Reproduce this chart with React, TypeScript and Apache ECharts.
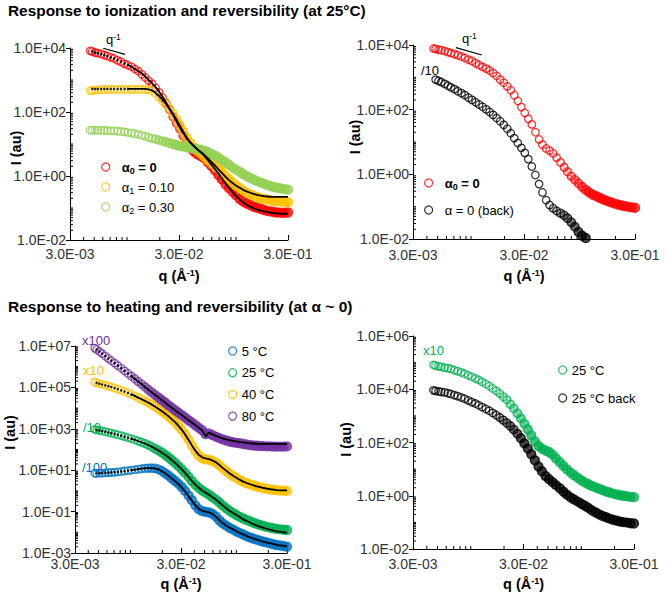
import React, { useEffect, useRef } from 'react';
import * as echarts from 'echarts';

const FONT = '"Liberation Sans", Arial, Helvetica, sans-serif';

// scattering vector q (Å^-1), shared sampling grid of the curves
const Q = [0.0046, 0.0048, 0.0051, 0.0054, 0.0058, 0.0062, 0.0066, 0.0071, 0.0076, 0.0082,
  0.0088, 0.0095, 0.0102, 0.011, 0.0118, 0.0127, 0.0137, 0.0147, 0.0158, 0.017,
  0.0183, 0.0197, 0.0212, 0.0228, 0.0245, 0.0264, 0.0284, 0.0305, 0.0328, 0.0353,
  0.038, 0.041, 0.044, 0.0475, 0.051, 0.055, 0.059, 0.064, 0.069, 0.074,
  0.08, 0.086, 0.093, 0.1, 0.108, 0.116, 0.125, 0.135, 0.145, 0.156,
  0.168, 0.18, 0.194, 0.21, 0.225, 0.24, 0.26, 0.28, 0.3];

const Q_MIN = 0.003;
const X_TICK_LABELS = ['3.0E-03', '3.0E-02', '3.0E-01'];
const Y_TICKS_A = ['1.0E-02', '1.0E+00', '1.0E+02', '1.0E+04'];
const Y_TICKS_C = ['1.0E-03', '1.0E-01', '1.0E+01', '1.0E+03', '1.0E+05', '1.0E+07'];
const Y_TICKS_D = ['1.0E-02', '1.0E+00', '1.0E+02', '1.0E+04', '1.0E+06'];

const TITLES = [
  'Response to ionization and reversibility (at 25°C)',
  'Response to heating and reversibility (at α ~ 0)',
];

// ---- Panel 1: ionization (25 °C) ----
const P1_RED = [8.1e3, 7.8e3, 7.2e3, 6.9e3, 6.5e3, 6.0e3, 5.6e3, 5.1e3, 4.7e3, 4.1e3,
  3.7e3, 3.2e3, 2.9e3, 2.6e3, 2.2e3, 1.9e3, 1.5e3, 1.2e3, 950, 760,
  560, 410, 280, 190, 120, 71, 45, 30, 18, 10.7,
  7.6, 5.8, 4.8, 4.2, 3.6, 2.75, 2.1, 1.5, 1.07, 0.79,
  0.55, 0.42, 0.32, 0.25, 0.19, 0.16, 0.138, 0.123, 0.11, 0.102,
  0.095, 0.087, 0.081, 0.078, 0.074, 0.072, 0.071, 0.071, 0.072];
const P1_RED_FIT = [null, 7.8e3, 7.2e3, 6.9e3, 6.5e3, 6.0e3, 5.6e3, 5.1e3, 4.7e3, 4.2e3,
  3.8e3, 3.3e3, 3.0e3, 2.6e3, 2.2e3, 1.9e3, 1.6e3, 1.3e3, 1.0e3, 790,
  600, 440, 300, 200, 129, 81, 51, 33, 22, 15,
  11.2, 8.7, 6.9, 5.5, 4.3, 3.16, 2.34, 1.66, 1.17, 0.85,
  0.6, 0.44, 0.32, 0.24, 0.186, 0.151, 0.126, 0.11, 0.098, 0.089,
  0.083, 0.078, 0.074, 0.071, 0.069, 0.068, 0.066, 0.066, 0.066];
const P1_YEL = [460, 470, 480, 490, 500, 510, 510, 510, 510, 510,
  510, 510, 510, 510, 510, 510, 510, 500, 490, 460,
  380, 290, 224, 174, 129, 91, 60, 39, 25, 15.8,
  10.7, 7.9, 6.3, 5.0, 4.0, 3.16, 2.57, 2.0, 1.66, 1.32,
  1.0, 0.81, 0.63, 0.5, 0.42, 0.355, 0.3, 0.27, 0.24, 0.22,
  0.204, 0.19, 0.182, 0.174, 0.166, 0.162, 0.158, 0.155, 0.151];
const P1_YEL_FIT = [null, 525, 525, 525, 525, 525, 525, 525, 525, 525,
  525, 525, 525, 525, 525, 525, 525, 525, 513, 468,
  398, 316, 240, 178, 126, 87, 58, 37, 24, 15.8,
  11.2, 8.5, 6.9, 5.6, 4.6, 3.6, 2.8, 2.14, 1.62, 1.26,
  0.95, 0.76, 0.6, 0.5, 0.43, 0.37, 0.33, 0.3, 0.275, 0.257,
  0.245, 0.234, 0.229, 0.224, 0.224, 0.224, 0.224, 0.224, 0.224];
const P1_GRN = [27, 27, 27, 27, 27, 26.3, 26.3, 25.7, 25.7, 25.1,
  24.5, 24, 22.9, 21.9, 20.9, 20, 18.6, 17.4, 16.2, 15.1,
  14.1, 13.2, 12.3, 11.5, 10.7, 10, 9.3, 8.7, 8.3, 7.9,
  7.6, 7.2, 6.9, 6.6, 6.2, 5.6, 5.0, 4.4, 3.7, 3.16,
  2.63, 2.24, 1.86, 1.58, 1.35, 1.15, 1.0, 0.87, 0.78, 0.69,
  0.63, 0.575, 0.525, 0.48, 0.447, 0.427, 0.407, 0.389, 0.372];

// ---- Panel 2: reversibility of ionization ----
const P2_RED = [7.8e3, 7.6e3, 7.2e3, 6.9e3, 6.5e3, 6.0e3, 5.6e3, 5.2e3, 4.8e3, 4.4e3,
  4.0e3, 3.5e3, 3.2e3, 2.75e3, 2.4e3, 2.1e3, 1.86e3, 1.62e3, 1.35e3, 1.1e3,
  850, 680, 525, 400, 280, 186, 120, 79, 52, 35,
  20, 12, 8.3, 6.3, 5.4, 4.4, 3.3, 2.34, 1.66, 1.2,
  0.87, 0.68, 0.525, 0.41, 0.33, 0.275, 0.234, 0.209, 0.186, 0.166,
  0.151, 0.138, 0.126, 0.117, 0.11, 0.105, 0.1, 0.095, 0.093];
const P2_BACK = [null, 850, 780, 710, 630, 550, 490, 430, 370, 324,
  282, 234, 200, 170, 145, 123, 102, 85, 69, 55,
  44, 34, 25.7, 18.6, 13.2, 9.3, 6.6, 4.6, 2.95, 1.74,
  0.95, 0.5, 0.275, 0.158, 0.112, 0.089, 0.074, 0.063, 0.054, 0.044,
  0.033, 0.024, 0.0166, 0.0126, 0.0107];

// ---- Panel 3: heating ----
const P3_BLUE = [7.1, 7.1, 7.2, 7.2, 7.4, 7.6, 7.8, 7.9, 8.3, 8.7,
  9.1, 9.5, 10, 10.5, 11.2, 11.7, 12.3, 12.6, 12.6, 12.3,
  11.2, 9.3, 7.2, 5.5, 4.1, 3.0, 2.19, 1.55, 1.0, 0.6,
  0.355, 0.2, 0.132, 0.105, 0.098, 0.091, 0.079, 0.058, 0.038, 0.0275,
  0.021, 0.0166, 0.0135, 0.011, 0.0091, 0.0078, 0.0065, 0.0056, 0.0049, 0.0044,
  0.0039, 0.0035, 0.0032, 0.0029, 0.0026, 0.00245, 0.0023, 0.00214, 0.002];
const P3_BLUE_FIT = [null, 7.1, 7.2, 7.3, 7.4, 7.6, 7.8, 8.0, 8.3, 8.7,
  9.1, 9.6, 10.1, 10.7, 11.3, 11.9, 12.4, 12.7, 12.7, 12.2,
  11.0, 9.1, 7.1, 5.4, 4.0, 2.95, 2.1, 1.45, 0.93, 0.56,
  0.34, 0.2, 0.135, 0.11, 0.1, 0.092, 0.078, 0.057, 0.039, 0.028,
  0.0215, 0.017, 0.0138, 0.0113, 0.0093, 0.0079, 0.0066, 0.0057, 0.005, 0.0044,
  0.0039, 0.0035, 0.0032, 0.0029, 0.0027, 0.0025, 0.0023, 0.0022, 0.0021];
const P3_GREEN = [930, 890, 830, 780, 725, 660, 615, 560, 513, 468,
  417, 372, 331, 295, 257, 224, 195, 166, 138, 112,
  91, 72, 55, 42, 31, 22.4, 15.8, 11, 7.4, 4.8,
  3.0, 2.0, 1.41, 1.05, 0.83, 0.66, 0.51, 0.38, 0.275, 0.2,
  0.145, 0.11, 0.085, 0.068, 0.055, 0.046, 0.039, 0.033, 0.029, 0.025,
  0.0224, 0.02, 0.0182, 0.0166, 0.0155, 0.0145, 0.0138, 0.0132, 0.0129];
const P3_GREEN_FIT = [null, 890, 830, 780, 725, 660, 615, 560, 513, 468,
  417, 372, 331, 295, 257, 224, 195, 166, 138, 112,
  91, 72, 55, 42, 31, 22.4, 15.8, 11, 7.4, 4.8,
  3.0, 2.0, 1.41, 1.05, 0.83, 0.66, 0.51, 0.38, 0.275, 0.2,
  0.145, 0.11, 0.085, 0.068, 0.054, 0.042, 0.035, 0.029, 0.0245, 0.021,
  0.0182, 0.0162, 0.0145, 0.0132, 0.012, 0.0112, 0.0105, 0.01, 0.0095];
const P3_YEL = [1.82e5, 1.66e5, 1.51e5, 1.38e5, 1.26e5, 1.15e5, 1.05e5, 9.3e4, 8.3e4, 7.2e4,
  6.3e4, 5.4e4, 4.6e4, 3.9e4, 3.2e4, 2.7e4, 2.24e4, 1.86e4, 1.51e4, 1.2e4,
  9.3e3, 7.2e3, 5.5e3, 4.1e3, 2.95e3, 2.1e3, 1.38e3, 890, 525, 295,
  158, 85, 52, 38, 34, 32, 28, 23, 17.4, 12.6,
  9.1, 6.9, 5.2, 4.2, 3.3, 2.75, 2.34, 2.04, 1.82, 1.62,
  1.48, 1.35, 1.26, 1.17, 1.12, 1.07, 1.05, 1.02, 1.0];
const P3_YEL_FIT = [null, 1.66e5, 1.51e5, 1.38e5, 1.26e5, 1.15e5, 1.05e5, 9.3e4, 8.3e4, 7.2e4,
  6.3e4, 5.4e4, 4.6e4, 3.9e4, 3.2e4, 2.7e4, 2.24e4, 1.86e4, 1.51e4, 1.2e4,
  9.3e3, 7.2e3, 5.5e3, 4.1e3, 2.95e3, 2.1e3, 1.38e3, 890, 525, 295,
  158, 88, 56, 42, 37, 34, 30, 24, 18, 13,
  9.5, 7.1, 5.4, 4.3, 3.4, 2.8, 2.4, 2.1, 1.86, 1.66,
  1.51, 1.38, 1.29, 1.2, 1.15, 1.1, 1.07, 1.05, 1.05];
const P3_PURP = [7.9e6, 6.8e6, 5.4e6, 4.3e6, 3.2e6, 2.5e6, 1.95e6, 1.48e6, 1.12e6, 8.3e5,
  6.3e5, 4.7e5, 3.5e5, 2.6e5, 1.95e5, 1.45e5, 1.05e5, 7.9e4, 5.9e4, 4.4e4,
  3.3e4, 2.45e4, 1.86e4, 1.38e4, 1.05e4, 7.9e3, 6.0e3, 4.6e3, 3.5e3, 2.6e3,
  2.0e3, 1.48e3, 1.12e3, 850, 560, 600, 500, 420, 355, 310,
  270, 245, 224, 209, 200, 186, 174, 162, 155, 151,
  148, 145, 141, 141, 138, 138, 138, 138, 141];
const P3_PURP_FIT = [null, 6.8e6, 5.4e6, 4.3e6, 3.2e6, 2.5e6, 1.95e6, 1.48e6, 1.12e6, 8.3e5,
  6.3e5, 4.7e5, 3.5e5, 2.6e5, 1.95e5, 1.45e5, 1.05e5, 7.9e4, 5.9e4, 4.4e4,
  3.3e4, 2.45e4, 1.86e4, 1.38e4, 1.05e4, 7.9e3, 6.0e3, 4.6e3, 3.5e3, 2.6e3,
  2.0e3, 1.48e3, 1.12e3, 850, 420, 660, 550, 457, 400, 347,
  310, 282, 263, 245, 229, 219, 209, 200, 195, 190,
  186, 186, 186, 186, 186, 186, 186, 186, 186];

// ---- Panel 4: reversibility of heating ----
const P4_GREEN = [8.1e4, 7.8e4, 7.2e4, 6.9e4, 6.5e4, 6.2e4, 5.8e4, 5.2e4, 4.8e4, 4.3e4,
  3.8e4, 3.3e4, 2.95e4, 2.57e4, 2.24e4, 1.9e4, 1.58e4, 1.32e4, 1.07e4, 8.7e3,
  6.9e3, 5.2e3, 4.0e3, 2.75e3, 1.9e3, 1.26e3, 810, 513, 309, 182,
  110, 74, 58, 50, 44, 35, 25, 18.2, 13.2, 9.8,
  7.4, 5.9, 4.7, 3.8, 3.16, 2.7, 2.34, 2.04, 1.82, 1.62,
  1.45, 1.32, 1.2, 1.12, 1.05, 1.0, 0.95, 0.91, 0.89];
const P4_BACK = [9.1e3, 8.7e3, 8.3e3, 7.9e3, 7.6e3, 7.1e3, 6.6e3, 6.0e3, 5.5e3, 4.9e3,
  4.4e3, 3.8e3, 3.3e3, 2.9e3, 2.5e3, 2.14e3, 1.82e3, 1.55e3, 1.29e3, 1.07e3,
  870, 690, 540, 417, 309, 214, 145, 93, 59, 36,
  21.4, 12.6, 8.3, 5.5, 4.2, 3.24, 2.5, 1.9, 1.41, 1.1,
  0.87, 0.72, 0.6, 0.5, 0.42, 0.35, 0.28, 0.234, 0.2, 0.174,
  0.155, 0.138, 0.126, 0.115, 0.107, 0.102, 0.098, 0.093, 0.091];

// q^-1 guide segments
const SLOPE1_Q = [0.00605, 0.0096];
const SLOPE1_I = [9.8e3, 6.3e3];
const SLOPE2_Q = [0.0073, 0.0125];
const SLOPE2_I = [8.3e3, 4.9e3];

// legend texts
const LEGEND_TEXT: Record<string, string> = {
  p1a0: '{b|α}{bs|0}{b| = 0}',
  p1a1: '{n|α}{ns|1}{n| = 0.10}',
  p1a2: '{n|α}{ns|2}{n| = 0.30}',
  p2a0: '{b|α}{bs|0}{b| = 0}',
  p2back: '{n|α = 0 (back)}',
  p3t5: '{n|5 °C}',
  p3t25: '{n|25 °C}',
  p3t40: '{n|40 °C}',
  p3t80: '{n|80 °C}',
  p4t25: '{n|25 °C}',
  p4back: '{n|25 °C back}',
};

const RED = '#FF0000';
const GOLD = '#FFC000';
const LIME = '#92D050';
const BLUE = '#0070C0';
const GREEN = '#00B050';
const PURPLE = '#7030A0';

const PANELS = [
  { grid: { left: 70, top: 48, width: 218, height: 192 }, e0: -2, e1: 4, yTicks: Y_TICKS_A, xGap: 28, yGap: 47, xMargin: 7, yPad: [0, 8, 0, 0] },
  { grid: { left: 413, top: 45, width: 222, height: 194 }, e0: -2, e1: 4, yTicks: Y_TICKS_A, xGap: 29, yGap: 51, xMargin: 9, yPad: [0, 0, 0, 10] },
  { grid: { left: 75, top: 346, width: 212, height: 207 }, e0: -3, e1: 7, yTicks: Y_TICKS_C, xGap: 23, yGap: 58, xMargin: 4, yPad: [0, 0, 0, 34] },
  { grid: { left: 413, top: 336, width: 221, height: 213 }, e0: -2, e1: 6, yTicks: Y_TICKS_D, xGap: 27, yGap: 60, xMargin: 8, yPad: [0, 0, 0, 6] },
];

const xv = (q: number) => Math.log10(q / Q_MIN);

function rgba(hex: string, a: number) {
  const n = parseInt(hex.slice(1), 16);
  return `rgba(${(n >> 16) & 255},${(n >> 8) & 255},${n & 255},${a.toFixed(3)})`;
}

// font size that makes a bold title span the width it has in the figure
function fitFontSize(text: string, targetWidth: number, base: number) {
  try {
    const ctx = document.createElement('canvas').getContext('2d');
    if (!ctx) return base;
    ctx.font = `bold ${base}px ${FONT}`;
    const w = ctx.measureText(text).width;
    if (!w) return base;
    const s = (base * targetWidth) / w;
    return Math.max(14.5, Math.min(17, s));
  } catch (e) {
    return base;
  }
}

function toXY(vals: (number | null)[], e0: number) {
  const out: number[][] = [];
  vals.forEach((v, i) => {
    if (v != null && i < Q.length) out.push([xv(Q[i]), Math.log10(v) - e0]);
  });
  return out;
}

// dense, noisy high-q points merge into a filled band in the figure: fill ramps in past `band`
function scatter(name: string, color: string, vals: (number | null)[], p: number, band: number) {
  const pts = toXY(vals, PANELS[p].e0).map((pt) => {
    const r = Math.max(0, Math.min(1, (pt[0] - band) / 0.3));
    return {
      value: pt,
      symbolSize: 7.5 + 1.5 * r,
      itemStyle: { color: rgba(color, 0.92 * r) },
    };
  });
  return {
    type: 'scatter', name, xAxisIndex: p, yAxisIndex: p, symbol: 'circle', symbolSize: 7.5,
    clip: false, silent: true, z: 2,
    itemStyle: { color: 'rgba(0,0,0,0)', borderColor: color, borderWidth: 1.3 },
    data: pts,
  };
}

// model fit: black dots where the points are sparse, a continuous line where they are dense
const DOT_END = 0.56;
function fit(name: string, vals: (number | null)[], p: number) {
  const all = toXY(vals, PANELS[p].e0);
  return [
    {
      type: 'scatter', name: name + '-dots', xAxisIndex: p, yAxisIndex: p, symbol: 'circle',
      symbolSize: 2.6, clip: false, silent: true, z: 4, itemStyle: { color: '#000' },
      data: all.filter((d) => d[0] < DOT_END),
    },
    {
      type: 'line', name, xAxisIndex: p, yAxisIndex: p, showSymbol: false, symbol: 'none',
      clip: false, silent: true, z: 4,
      lineStyle: { color: '#000', width: 1.8 }, itemStyle: { color: '#000' },
      data: all.filter((d) => d[0] >= DOT_END - 0.04),
    },
  ];
}

function guide(qs: number[], is: number[], p: number) {
  return {
    type: 'line', xAxisIndex: p, yAxisIndex: p, symbol: 'none', silent: true, z: 4,
    lineStyle: { color: '#000', width: 1.2 },
    data: qs.map((q, i) => [xv(q), Math.log10(is[i]) - PANELS[p].e0]),
  };
}

function minorTicks(p: number) {
  const { e0, e1 } = PANELS[p];
  const d: number[][] = [];
  for (let n = e0; n < e1; n++) {
    for (let k = 1; k <= 9; k++) {
      if (k === 1 && (n - e0) % 2 === 0) continue;
      d.push([0, Math.log10(k) + n - e0, 0]);
    }
  }
  for (let n = -3; n <= -1; n++) {
    for (let k = 1; k <= 9; k++) {
      const u = xv(k * Math.pow(10, n));
      if (u <= 0.001 || u >= 1.999 || Math.abs(u - 1) < 0.001) continue;
      d.push([u, 0, 1]);
    }
  }
  return {
    type: 'custom', xAxisIndex: p, yAxisIndex: p, silent: true, z: 5, clip: false,
    data: d,
    renderItem: (_params: any, api: any) => {
      const pt = api.coord([api.value(0), api.value(1)]);
      const dir = api.value(2);
      return {
        type: 'line',
        shape: dir === 0
          ? { x1: pt[0], y1: pt[1], x2: pt[0] + 3, y2: pt[1] }
          : { x1: pt[0], y1: pt[1], x2: pt[0], y2: pt[1] - 3 },
        style: { stroke: '#000', lineWidth: 1 },
      };
    },
  };
}

const richLegend = {
  b: { fontFamily: FONT, fontSize: 13, fontWeight: 'bold', color: '#000', lineHeight: 16 },
  bs: { fontFamily: FONT, fontSize: 9, fontWeight: 'bold', color: '#000', lineHeight: 8, verticalAlign: 'bottom' },
  n: { fontFamily: FONT, fontSize: 13, color: '#000', lineHeight: 16 },
  ns: { fontFamily: FONT, fontSize: 9, color: '#000', lineHeight: 8, verticalAlign: 'bottom' },
};

function legend(data: string[], left: number, top: number, itemWidth: number, itemGap: number) {
  return {
    data, left, top, orient: 'vertical', padding: 0, itemWidth, itemHeight: 8, itemGap,
    selectedMode: false,
    itemStyle: { borderWidth: 1.3 },
    formatter: (name: string) => LEGEND_TEXT[name] || name,
    textStyle: { fontFamily: FONT, fontSize: 13, color: '#000', lineHeight: 16, rich: richLegend },
  };
}

function buildOption() {
  const grid = PANELS.map((p) => ({ ...p.grid, containLabel: false, outerBoundsMode: 'none' }));
  const xAxis = PANELS.map((p, i) => ({
    type: 'value', gridIndex: i, min: 0, max: 2, interval: 1,
    name: '{b|q (Å}{sup|-1}{b|)}', nameLocation: 'middle', nameGap: p.xGap, nameMoveOverlap: false,
    nameTextStyle: {
      rich: {
        b: { fontFamily: FONT, fontSize: 14.5, fontWeight: 'bold', color: '#000', lineHeight: 16 },
        sup: { fontFamily: FONT, fontSize: 9, fontWeight: 'bold', color: '#000', lineHeight: 9, verticalAlign: 'top' },
      },
    },
    axisLine: { show: true, onZero: false, lineStyle: { color: '#000', width: 1 } },
    axisTick: { show: true, inside: true, length: 5, lineStyle: { color: '#000' } },
    splitLine: { show: false },
    axisLabel: {
      showMinLabel: true, showMaxLabel: true, margin: p.xMargin, hideOverlap: false,
      fontFamily: FONT, fontSize: 14, color: '#333',
      formatter: (v: number) => X_TICK_LABELS[Math.round(v)] ?? '',
    },
  }));
  const yAxis = PANELS.map((p, i) => ({
    type: 'value', gridIndex: i, min: 0, max: p.e1 - p.e0, interval: 2,
    name: 'I (au)', nameLocation: 'middle', nameGap: p.yGap, nameMoveOverlap: false,
    nameTextStyle: { fontFamily: FONT, fontSize: 14.5, fontWeight: 'bold', color: '#000', padding: p.yPad },
    axisLine: { show: true, onZero: false, lineStyle: { color: '#000', width: 1 } },
    axisTick: { show: true, inside: false, length: 4, lineStyle: { color: '#000' } },
    splitLine: { show: false },
    axisLabel: {
      showMinLabel: true, showMaxLabel: true, margin: 4, hideOverlap: false,
      fontFamily: FONT, fontSize: 14, color: '#333',
      formatter: (v: number) => p.yTicks[Math.round(v / 2)] ?? '',
    },
  }));

  const series: any[] = [
    scatter('p1a0', RED, P1_RED, 0, 0.85),
    scatter('p1a1', GOLD, P1_YEL, 0, 0.78),
    scatter('p1a2', LIME, P1_GRN, 0, 0.68),
    ...fit('fit-p1a0', P1_RED_FIT, 0),
    ...fit('fit-p1a1', P1_YEL_FIT, 0),
    guide(SLOPE1_Q, SLOPE1_I, 0),

    scatter('p2a0', RED, P2_RED, 1, 1.3),
    scatter('p2back', '#000000', P2_BACK, 1, 1.22),
    guide(SLOPE2_Q, SLOPE2_I, 1),

    scatter('p3t5', BLUE, P3_BLUE, 2, 0.58),
    scatter('p3t25', GREEN, P3_GREEN, 2, 0.55),
    scatter('p3t40', GOLD, P3_YEL, 2, 0.55),
    scatter('p3t80', PURPLE, P3_PURP, 2, 0.5),
    ...fit('fit-p3t5', P3_BLUE_FIT, 2),
    ...fit('fit-p3t25', P3_GREEN_FIT, 2),
    ...fit('fit-p3t40', P3_YEL_FIT, 2),
    ...fit('fit-p3t80', P3_PURP_FIT, 2),

    scatter('p4t25', GREEN, P4_GREEN, 3, 0.75),
    scatter('p4back', '#000000', P4_BACK, 3, 0.7),

    minorTicks(0), minorTicks(1), minorTicks(2), minorTicks(3),
  ];

  const txt = (text: string, x: number, y: number, fill: string, extra: any = {}) => ({
    type: 'text', x, y, silent: true,
    style: { text, fill, fontFamily: FONT, fontSize: 13, verticalAlign: 'middle', ...extra },
  });
  const qRich = {
    rich: {
      q: { fontFamily: FONT, fontSize: 13, fill: '#000', color: '#000', lineHeight: 14 },
      s: { fontFamily: FONT, fontSize: 8.5, fill: '#000', color: '#000', lineHeight: 8, verticalAlign: 'top' },
    },
  };

  const t1Size = fitFontSize(TITLES[0], 358, 15.5);
  const t2Size = fitFontSize(TITLES[1], 345, 15.5);

  const graphic = [
    txt(TITLES[0], 8, 10, '#000', { fontSize: t1Size, fontWeight: 'bold' }),
    txt(TITLES[1], 8, 306, '#000', { fontSize: t2Size, fontWeight: 'bold' }),
    txt('{q|q}{s|-1}', 106, 39, '#000', qRich),
    txt('{q|q}{s|-1}', 462, 38, '#000', qRich),
    txt('/10', 421, 70, '#000'),
    txt('x100', 82, 340, PURPLE),
    txt('x10', 83, 370, GOLD),
    txt('/10', 83, 427, GREEN),
    txt('/100', 82, 467, BLUE),
    txt('x10', 423, 350, GREEN),
  ];

  return {
    animation: false,
    backgroundColor: '#ffffff',
    grid, xAxis, yAxis, series, graphic,
    legend: [
      legend(['p1a0', 'p1a1', 'p1a2'], 101, 159, 22, 4),
      legend(['p2a0', 'p2back'], 424, 175, 22, 11),
      legend(['p3t5', 'p3t25', 'p3t40', 'p3t80'], 228, 343, 8, 5.7),
      legend(['p4t25', 'p4back'], 558, 362, 8, 12),
    ],
  };
}

export default function App() {
  const ref = useRef<HTMLDivElement>(null);
  useEffect(() => {
    if (!ref.current) return;
    const chart = echarts.init(ref.current, null, { renderer: 'svg' });
    chart.setOption(buildOption() as any);
    return () => chart.dispose();
  }, []);
  return (
    <div
      ref={ref}
      style={{ position: 'fixed', left: 0, top: 0, width: 666, height: 596, background: '#fff' }}
    />
  );
}
